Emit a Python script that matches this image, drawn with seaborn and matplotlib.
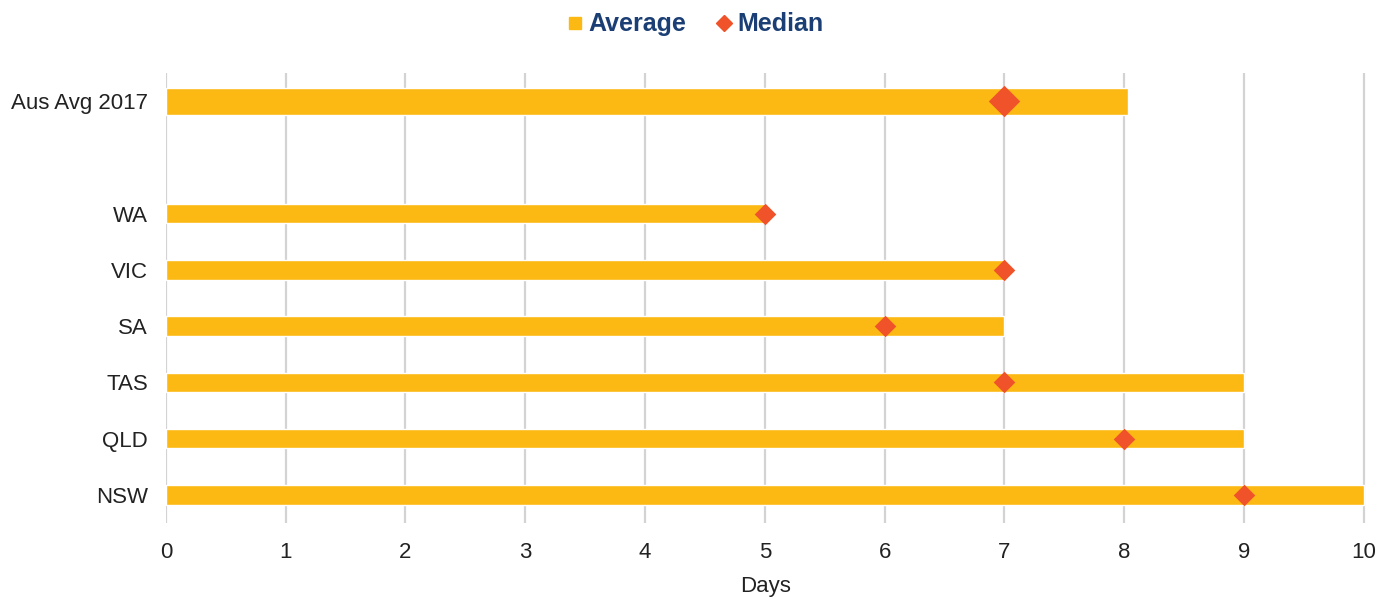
import matplotlib
matplotlib.use("Agg")
import matplotlib.pyplot as plt
from matplotlib.lines import Line2D
import seaborn as sns
import pandas as pd

# Waiting days per region
regions = ["Aus Avg 2017", " ", "WA", "VIC", "SA", "TAS", "QLD", "NSW"]
average_days = [8.03, None, 5, 7, 7, 9, 9, 10]
median_days = [7, None, 5, 7, 6, 7, 8, 9]

BAR_COLOR = "#FDB913"
MED_COLOR = "#F0522A"
LEGEND_COLOR = "#1B3F74"

sns.set_theme(style="white")
plt.rcParams["font.family"] = ["Liberation Sans", "DejaVu Sans"]

df = pd.DataFrame({"region": regions, "average": average_days, "median": median_days})
df = df.dropna()
national = df[df["region"] == "Aus Avg 2017"]
states = df[df["region"] != "Aus Avg 2017"]

fig, ax = plt.subplots(figsize=(13.94, 5.99), dpi=100)
fig.subplots_adjust(left=0.119, right=0.980, top=0.878, bottom=0.127)

sns.barplot(data=states, x="average", y="region", order=regions, color=BAR_COLOR,
            width=0.35, saturation=1, orient="h", ax=ax, zorder=2)
sns.barplot(data=national, x="average", y="region", order=regions, color=BAR_COLOR,
            width=0.48, saturation=1, orient="h", ax=ax, zorder=2)
sns.stripplot(data=states, x="median", y="region", order=regions, color=MED_COLOR,
              marker="D", size=11, jitter=False, orient="h", ax=ax, zorder=3, linewidth=0)
sns.stripplot(data=national, x="median", y="region", order=regions, color=MED_COLOR,
              marker="D", size=16, jitter=False, orient="h", ax=ax, zorder=3, linewidth=0)

ax.set_xlim(0, 10.02)
ax.set_ylim(len(regions) - 0.5, -0.5)
ax.set_xticks(range(0, 11))
ax.xaxis.grid(True, color="#d3d3d3", linewidth=1.6, zorder=0)
ax.yaxis.grid(False)
ax.set_axisbelow(True)
for s in ax.spines.values():
    s.set_visible(False)
ax.tick_params(axis="both", length=0, labelsize=16, colors="#222222")
ax.tick_params(axis="x", pad=14)
ax.tick_params(axis="y", pad=13)
ax.set_xlabel("Days", fontsize=16, color="#222222", labelpad=9)
ax.set_ylabel("")

handles = [
    Line2D([], [], marker="s", linestyle="", color=BAR_COLOR, markersize=9),
    Line2D([], [], marker="D", linestyle="", color=MED_COLOR, markersize=8),
]
leg = fig.legend(handles, ["Average", "Median"], loc="upper center",
                 bbox_to_anchor=(0.497, 1.017), ncol=2, frameon=False,
                 handletextpad=0.05, columnspacing=1.0, handlelength=1.0,
                 prop={"size": 18, "weight": "bold"})
for t in leg.get_texts():
    t.set_color(LEGEND_COLOR)

fig.savefig("out.png", dpi=100)
